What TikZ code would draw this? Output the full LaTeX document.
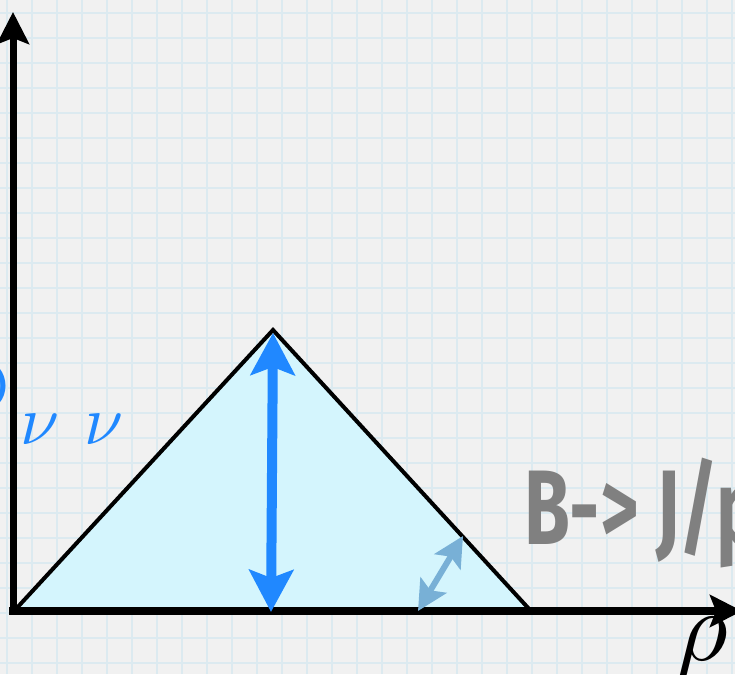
\documentclass[tikz,border=0pt]{standalone}
\usepackage{fontspec}
\usepackage{tikz}
\usetikzlibrary{arrows.meta}
\newfontfamily\markerfont{Fira Sans}
\definecolor{paper}{HTML}{F1F1F1}
\definecolor{gridblue}{HTML}{DCEAF0}
\definecolor{trifill}{HTML}{D4F5FD}
\definecolor{arrblue}{HTML}{2088FF}
\definecolor{steel}{HTML}{78B0D6}
\definecolor{labgray}{HTML}{808080}

\begin{document}
\begin{tikzpicture}[
      x=1pt, y=1pt,
      gridln/.style = {draw=gridblue, line width=1.3pt},
      axis/.style   = {draw=black, line width=8pt,
                       -{Stealth[length=32pt, width=32pt, inset=6pt]}},
      tri/.style    = {draw=black, fill=trifill, line width=4pt, line join=miter},
      bigarr/.style = {draw=arrblue, line width=10pt,
                       {Stealth[length=42pt, width=44pt, inset=8pt]}-{Stealth[length=42pt, width=44pt, inset=8pt]}},
      smlarr/.style = {draw=steel, line width=6pt,
                       {Stealth[length=30pt, width=30pt, inset=6pt]}-{Stealth[length=30pt, width=30pt, inset=6pt]}},
      dlbl/.style   = {text=arrblue, inner sep=0pt, font=\fontsize{72}{72}\selectfont},
      nulbl/.style  = {text=arrblue, inner sep=0pt},
      hand/.style   = {text=labgray, inner sep=0pt, font=\markerfont\bfseries\fontsize{106}{106}\selectfont},
      axlbl/.style  = {text=black, inner sep=0pt},
    ]
    \useasboundingbox (0,0) rectangle (735,674);
    \clip (0,0) rectangle (735,674);
    %% ------------------------------------------------ paper
    \fill[paper] (0,0) rectangle (735,674);
    \begin{scope}[shift={(7,11)}]
      \draw[gridln, step=25] (-7,-11) grid (728,663);
    \end{scope}

    %% ------------------------------------------------ triangle
    \coordinate (tl) at (15,64);
    \coordinate (tp) at (273,344);
    \coordinate (tr) at (530,64);
    \draw[tri] (tl) -- (tp) -- (tr) -- cycle;

    %% ------------------------------------------------ axes
    \coordinate (o)  at (13,60);
    \coordinate (yt) at (13,662);
    \coordinate (xo) at (9,63);
    \coordinate (xt) at (742,63);
    \draw[axis, line width=7pt] (o) -- (yt);
    \draw[axis] (xo) -- (xt);

    %% ------------------------------------------------ arrows
    \coordinate (top) at (273,341);
    \coordinate (bot) at (271,62);
    \draw[bigarr] (bot) -- (top);
    \coordinate (se) at (463,138);
    \coordinate (sb) at (418,63);
    \draw[smlarr] (sb) -- (se);

    %% ------------------------------------------------ labels
    \node[dlbl, anchor=base east] (d) at (10,263) {D};
    \node[nulbl, anchor=base west] (nu1) at (20,229) {\scalebox{7}{$\nu$}};
    \node[nulbl, anchor=base west] (nu2) at (84,229) {\scalebox{7}{$\nu$}};
    \node[hand, anchor=base west] (bj) at (524,129) {\scalebox{0.7}[1]{B-> J/p}};
    \node[axlbl, anchor=base west] (rho) at (676,14) {\scalebox{10}{$\rho$}};
  \end{tikzpicture}
\end{document}
